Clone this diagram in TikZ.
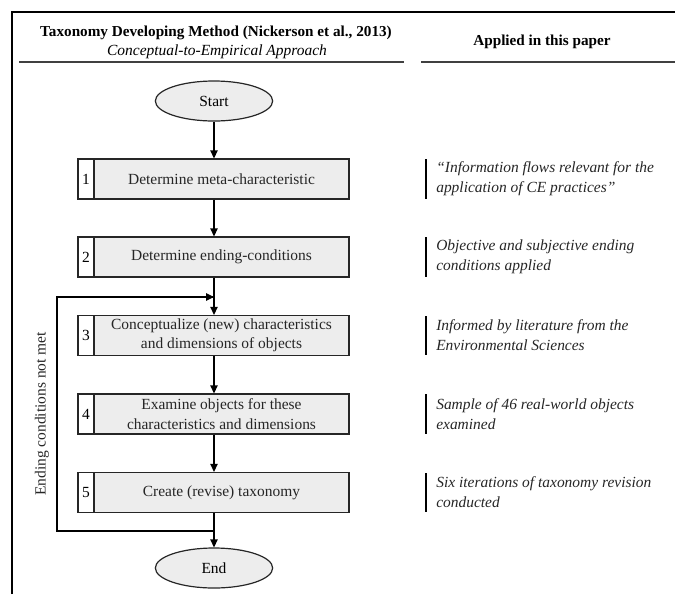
\documentclass[tikz,border=0pt]{standalone}
\usepackage{fontspec}
\setmainfont{Liberation Serif}
\usetikzlibrary{arrows.meta,shapes.geometric}
\begin{document}
\begin{tikzpicture}[x=0.75pt,y=-0.75pt,
  every node/.style={inner sep=0pt,font=\fontsize{11.6}{14.5}\selectfont},
  frameline/.style={line width=1.1pt,black},
  hline/.style={line width=0.8pt,black!75},
  term/.style={ellipse,draw=black!85,line width=0.9pt,fill=black!7,minimum width=88pt,minimum height=30pt},
  numbox/.style={draw=black!85,line width=0.9pt,fill=white,minimum width=12pt,minimum height=30pt},
  mainbox/.style={draw=black!85,line width=0.9pt,fill=black!7,minimum width=191.25pt,minimum height=30pt,align=center,text=black!85},
  arr/.style={line width=1.1pt,-{Triangle[length=6pt,width=5.5pt]}},
  loopline/.style={line width=1.5pt},
  bar/.style={line width=1.4pt,black},
  note/.style={anchor=west,align=left,text=black!85,font=\fontsize{11.6}{15}\selectfont\itshape}
]
\useasboundingbox (0,0) rectangle (675,594);
% frame and header
\draw[frameline] (12,594) -- (12,12) -- (675,12);
\node[font=\fontsize{11.4}{13}\selectfont\bfseries] (title) at (216,33) {Taxonomy Developing Method (Nickerson et al., 2013)};
\node[font=\fontsize{11.6}{13}\selectfont\itshape] (subtitle) at (217,52) {Conceptual-to-Empirical Approach};
\node[font=\fontsize{11.4}{13}\selectfont\bfseries] (applied) at (542,42) {Applied in this paper};
\draw[hline] (19,62) -- (404,62);
\draw[hline] (421,62) -- (675,62);
% terminals
\node[term] (start) at (214,101) {Start};
\node[term] (end) at (214,568) {End};
% boxes
\node[numbox] (n1) at (86,179) {1};
\node[mainbox] (b1) at (221.5,179) {Determine meta-characteristic};
\node[numbox] (n2) at (86,257) {2};
\node[mainbox] (b2) at (221.5,257) {Determine ending-conditions};
\node[numbox] (n3) at (86,335.5) {3};
\node[mainbox] (b3) at (221.5,335.5) {Conceptualize (new) characteristics\\and dimensions of objects};
\node[numbox] (n4) at (86,414) {4};
\node[mainbox] (b4) at (221.5,414) {Examine objects for these\\characteristics and dimensions};
\node[numbox] (n5) at (86,492.5) {5};
\node[mainbox] (b5) at (221.5,492.5) {Create (revise) taxonomy};
% arrows
\draw[arr] (start) -- (start |- b1.north);
\draw[arr] (start |- b1.south) -- (start |- b2.north);
\draw[arr] (start |- b2.south) -- (start |- b3.north);
\draw[arr] (start |- b3.south) -- (start |- b4.north);
\draw[arr] (start |- b4.south) -- (start |- b5.north);
\draw[arr] (start |- b5.south) -- (end);
% feedback loop
\coordinate (lsplit) at (214,531);
\coordinate (lbl) at (57,531);
\coordinate (ltl) at (57,297);
\coordinate (ljoin) at (214,297);
\draw[loopline] (lsplit) -- (lbl) -- (ltl) -- (ljoin);
\draw[arr] (ltl) -- (ljoin);
\node[rotate=90,text=black!85] (ecnm) at (42,414) {Ending conditions not met};
% right column
\draw[bar] (426,159) -- (426,199);
\node[note] (r1) at (436,179) {“Information flows relevant for the\\application of CE practices”};
\draw[bar] (426,237) -- (426,277);
\node[note] (r2) at (436,257) {Objective and subjective ending\\conditions applied};
\draw[bar] (426,316) -- (426,355);
\node[note] (r3) at (436,335.5) {Informed by literature from the\\Environmental Sciences};
\draw[bar] (426,394) -- (426,434);
\node[note] (r4) at (436,414) {Sample of 46 real-world objects\\examined};
\draw[bar] (426,473) -- (426,512);
\node[note] (r5) at (436,492.5) {Six iterations of taxonomy revision\\conducted};
\end{tikzpicture}
\end{document}
